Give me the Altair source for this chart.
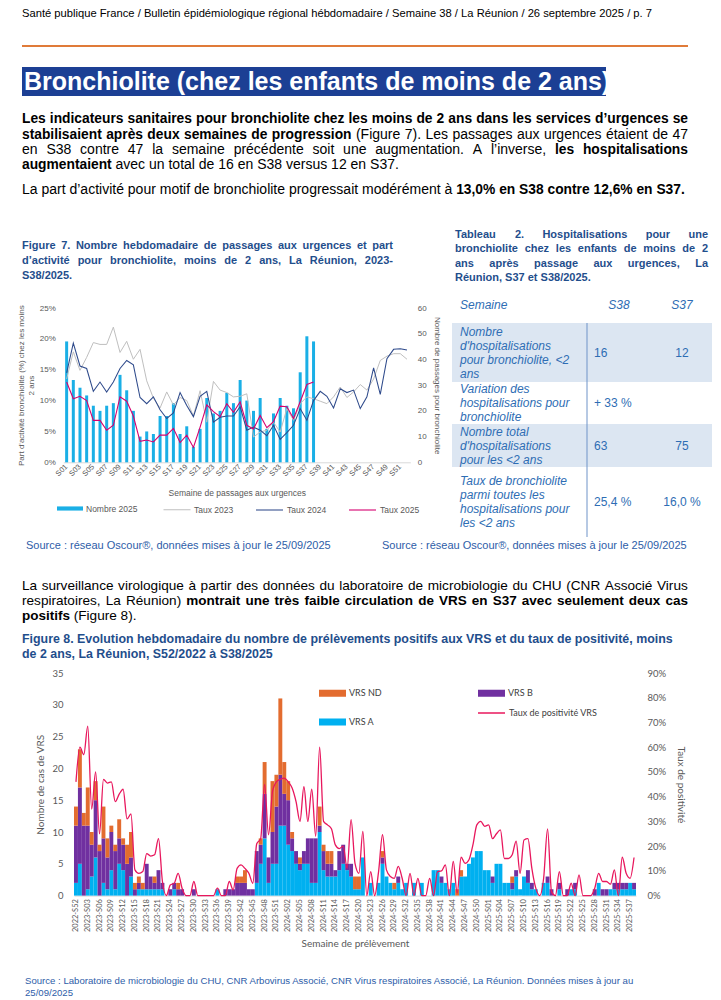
import altair as alt
import pandas as pd

BODY = "Liberation Sans"
F8 = "Lato"
GREY = "#595959"
NAVY = "#1F4E8C"
SRC = "#2E5DA8"
TABC = "#2E6DB4"

# ---------------- Figure 7 data ----------------
weeks7 = ["S%02d" % k for k in range(1, 53)]
nombre_2025 = [47, 32, 29, 26, 22, 20, 22, 23, 34, 28, 20, 10, 12, 11, 18, 18, 23, 11, 14, 6,
               13, 25, 19, 20, 27, 23, 32, 24, 20, 25, 13, 19, 25, 22, 21, 35, 49, 47]
taux_2023 = [13.5, 17.9, 14.9, 17.0, 19.4, 19.1, 19.1, 21.9, 17.8, 19.6, 16.7, 18.3, 13.2, 10.4,
             8.8, 11.4, 9.3, 10.5, 10.0, 7.5, 11.6, 6.5, 13.1, 11.7, 11.3, 10.6, 10.7, 11.1, 4.1,
             4.9, 5.2, 6.5, 4.9, 8.7, 6.8, 9.5, 10.6, 10.3, 9.9, 9.5, 10.6, 12.2, 10.5, 11.4, 12.6,
             11.7, 13.5, 16.5, 17.2, 17.6, 17.6, 16.7]
taux_2024 = [14.5, 19.3, 15.6, 15.2, 11.5, 13.0, 11.4, 13.0, 15.2, 16.5, 15.8, 10.5, 9.5, 10.6,
             8.5, 7.1, 8.0, 11.3, 9.2, 7.4, 10.7, 11.5, 6.5, 7.3, 7.5, 7.5, 9.0, 5.2, 5.7, 5.2, 4.3,
             6.0, 3.7, 4.8, 6.0, 8.7, 6.8, 10.0, 11.5, 10.7, 8.8, 11.9, 11.3, 11.7, 8.7, 10.6, 15.3,
             11.0, 16.8, 18.3, 18.4, 18.2]
taux_2025 = [13.0, 10.3, 10.7, 10.0, 6.8, 6.8, 5.2, 6.0, 10.6, 9.9, 7.5, 3.4, 3.6, 3.3, 4.4, 4.4,
             5.5, 3.2, 4.4, 2.4, 5.7, 9.3, 8.2, 7.4, 9.5, 8.1, 9.8, 6.0, 5.4, 7.6, 5.6, 6.6, 9.1,
             9.0, 7.1, 9.8, 12.6, 13.0]
series7 = ["Taux 2023", "Taux 2024", "Taux 2025"]

# ---------------- Table 2 data ----------------
table_header = ["Semaine", "S38", "S37"]
table_labels = [
    ["Nombre", "d'hospitalisations", "pour bronchiolite, <2", "ans"],
    ["Variation des", "hospitalisations pour", "bronchiolite"],
    ["Nombre total", "d'hospitalisations", "pour les <2 ans"],
    ["Taux de bronchiolite", "parmi toutes les", "hospitalisations pour", "les <2 ans"],
]
table_s38 = ["16", "+ 33 %", "63", "25,4 %"]
table_s37 = ["12", "", "75", "16,0 %"]

# ---------------- Figure 8 data ----------------
weeks8 = (["2022-S52"] + ["2023-S%02d" % k for k in range(1, 53)]
          + ["2024-S%02d" % k for k in range(1, 53)] + ["2025-S%02d" % k for k in range(1, 39)])
vrs_a = [2, 5, 0, 1, 3, 6, 0, 2, 1, 4,
         1, 5, 4, 0, 3, 0, 1, 1, 1, 1,
         1, 1, 1, 0, 0, 1, 0, 0, 0, 0,
         0, 0, 0, 0, 0, 0, 1, 0, 0, 0,
         0, 0, 0, 0, 0, 0, 2, 5, 9, 2,
         5, 5, 11, 11, 8, 7, 5, 4, 5, 5,
         2, 2, 10, 4, 3, 3, 3, 4, 5, 4,
         3, 1, 1, 6, 0, 2, 0, 2, 5, 3,
         2, 1, 2, 1, 2, 0, 2, 0, 2, 0,
         0, 4, 4, 2, 2, 1, 2, 0, 3, 3,
         5, 6, 7, 7, 4, 4, 2, 5, 5, 2,
         2, 1, 3, 1, 3, 2, 1, 1, 0, 2,
         2, 0, 0, 1, 0, 0, 1, 1, 0, 0,
         0, 0, 0, 2, 0, 0, 1, 1, 1, 1,
         1, 2, 1]
vrs_b = [9, 12, 11, 10, 5, 9, 7, 7, 5, 6,
         6, 4, 4, 5, 3, 1, 1, 0, 4, 2,
         1, 3, 1, 0, 1, 1, 1, 1, 0, 0,
         1, 0, 0, 0, 0, 0, 0, 0, 1, 1,
         1, 2, 2, 2, 1, 1, 5, 3, 7, 4,
         5, 9, 8, 5, 7, 2, 2, 1, 2, 4,
         7, 7, 1, 3, 2, 2, 1, 3, 3, 1,
         2, 0, 0, 0, 0, 0, 0, 0, 1, 0,
         0, 0, 1, 0, 0, 0, 0, 0, 0, 0,
         0, 0, 0, 1, 0, 0, 0, 0, 0, 0,
         0, 0, 0, 0, 0, 0, 1, 0, 0, 0,
         0, 1, 1, 0, 0, 2, 1, 0, 0, 0,
         1, 1, 0, 1, 0, 1, 0, 1, 0, 0,
         0, 0, 1, 0, 1, 1, 0, 1, 1, 1,
         1, 0, 1]
vrs_nd = [3, 6, 2, 6, 2, 3, 1, 5, 3, 1,
          1, 3, 1, 3, 4, 1, 1, 1, 0, 0,
          1, 0, 0, 0, 0, 0, 1, 0, 0, 0,
          0, 0, 0, 0, 0, 0, 0, 0, 0, 0,
          0, 1, 1, 2, 0, 0, 0, 1, 5, 0,
          8, 5, 12, 5, 3, 1, 0, 1, 0, 0,
          0, 0, 3, 1, 2, 2, 0, 0, 0, 0,
          0, 2, 2, 0, 0, 0, 0, 0, 1, 0,
          0, 1, 0, 0, 0, 0, 0, 0, 0, 0,
          0, 0, 0, 0, 0, 0, 0, 1, 1, 0,
          0, 0, 0, 0, 0, 0, 0, 0, 0, 0,
          0, 1, 0, 0, 0, 0, 0, 0, 0, 0,
          0, 0, 0, 0, 0, 0, 0, 0, 0, 0,
          0, 0, 0, 0, 0, 0, 0, 0, 0, 0,
          0, 0, 0]
taux_vrs = [46, 60, 57, 68.5, 35, 50, 25, 47, 45.5, 46,
            38, 41, 43, 31, 33, 10.4, 9, 9.7, 17, 16,
            16.5, 23, 5.7, 0, 4.3, 5, 9, 3, 0, 0,
            5.7, 0, 0, 0, 0, 0, 3, 0, 0, 5.7,
            2.3, 11, 12.4, 11, 9, 5, 21, 23, 45, 24.6,
            42, 46, 47, 47.5, 46, 43.5, 38, 30, 44, 30,
            43, 24, 60, 30, 28.6, 27, 20.5, 19, 20, 11,
            30.7, 13, 9, 26, 0, 9.7, 0, 9.7, 24.6, 10.4,
            7.7, 7, 11.8, 7, 0, 9, 0, 7, 0, 0,
            7, 0, 9.7, 10, 12.4, 0, 13.8, 1, 15.5, 13,
            14.5, 20.5, 28.6, 30, 28, 28.6, 23, 25, 26.6, 15,
            15, 16.5, 22, 9, 22.5, 23, 11, 3, 0, 7,
            27, 1.6, 0, 9.7, 0, 0, 5, 0, 8.4, 0,
            0, 0, 3, 9, 5.7, 5.7, 4.6, 10.4, 0, 15.5,
            9, 7, 15.4]
types8 = ["VRS ND", "VRS B", "VRS A"]

# ---------------- text styles & metrics (for justified lines) ----------------
STYLES = {
    "hdr": dict(font=BODY, fontSize=11.2, color="#000000"),
    "title": dict(font=BODY, fontSize=25, fontWeight="bold", color="#FFFFFF"),
    "b": dict(font=BODY, fontSize=13.8, fontWeight="bold", color="#000000"),
    "n": dict(font=BODY, fontSize=14, color="#000000"),
    "b2": dict(font=BODY, fontSize=13.5, fontWeight="bold", color="#000000"),
    "n2": dict(font=BODY, fontSize=13.6, color="#000000"),
    "fig": dict(font=BODY, fontSize=11, fontWeight="bold", color=NAVY),
    "fig8": dict(font=BODY, fontSize=12.4, fontWeight="bold", color=NAVY),
    "tab": dict(font=BODY, fontSize=11, fontWeight="bold", color=NAVY),
    "src": dict(font=BODY, fontSize=11, color=SRC),
    "src2": dict(font=BODY, fontSize=9.6, color=SRC),
    "ti": dict(font=BODY, fontSize=12, fontStyle="italic", color=TABC),
    "tv": dict(font=BODY, fontSize=12, color=TABC),
}
_REG = {" ": 278, "%": 889, "'": 191, "’": 222, "(": 333, ")": 333, ",": 278, "-": 333, ".": 278,
        "/": 278, ":": 278, "<": 584, "+": 584, "®": 737,
        "A": 667, "B": 667, "C": 722, "D": 722, "E": 667, "F": 611, "G": 778, "H": 722, "I": 278,
        "L": 556, "M": 833, "N": 722, "O": 778, "P": 667, "R": 722, "S": 667, "T": 611, "U": 722,
        "V": 667, "a": 556, "b": 556, "c": 500, "d": 556, "e": 556, "f": 278, "g": 556, "h": 556,
        "i": 222, "j": 222, "k": 500, "l": 222, "m": 833, "n": 556, "o": 556, "p": 556, "q": 556,
        "r": 333, "s": 500, "t": 278, "u": 556, "v": 500, "w": 722, "x": 500, "y": 500, "z": 500}
_BOLD = {" ": 278, "%": 889, "'": 238, "’": 278, "(": 333, ")": 333, ",": 278, "-": 333, ".": 278,
         "/": 278, ":": 333, "<": 584, "A": 722, "B": 722, "C": 722, "D": 722, "E": 667, "F": 611,
         "G": 778, "H": 722, "I": 278, "L": 611, "M": 833, "N": 722, "O": 778, "P": 667, "R": 722,
         "S": 667, "T": 611, "U": 722, "V": 667, "a": 556, "b": 611, "c": 556, "d": 611, "e": 556,
         "f": 333, "g": 611, "h": 611, "i": 278, "j": 278, "k": 556, "l": 278, "m": 889, "n": 611,
         "o": 611, "p": 611, "q": 611, "r": 389, "s": 556, "t": 333, "u": 611, "v": 556, "w": 778,
         "x": 556, "y": 556, "z": 500}


def tw(s, st):
    bold = STYLES[st].get("fontWeight") == "bold"
    table = _BOLD if bold else _REG
    return sum(table.get(ch, 556) for ch in s) * STYLES[st]["fontSize"] / 1000


def line_items(segs, y, x0, x1=None):
    """Place words of a (possibly mixed-style) line; justified between x0 and x1 if x1 is given."""
    words = []
    for text, st in segs:
        for w in text.split(" "):
            if w:
                words.append((w, st))
    widths = [tw(w, st) for w, st in words]
    gaps = [tw(" ", st) for w, st in words[:-1]]
    extra = 0
    if x1 is not None and len(words) > 1:
        extra = (x1 - x0 - sum(widths) - sum(gaps)) / (len(words) - 1)
    out, x = [], x0
    for i, (w, st) in enumerate(words):
        out.append((x, y, w, st, "left"))
        if i < len(gaps):
            x += widths[i] + gaps[i] + extra
    return out


W = 705


def pos(w, h):
    return (alt.Scale(domain=[0, w], range=[0, w]), alt.Scale(domain=[0, h], range=[0, h]))


def text_layers(items, w, h):
    sx, sy = pos(w, h)
    df = pd.DataFrame(items, columns=["x", "y", "texte", "style", "align"])
    layers = []
    for (st, al), g in df.groupby(["style", "align"]):
        layers.append(
            alt.Chart(g).mark_text(align=al, baseline="middle", **STYLES[st]).encode(
                x=alt.X("x:Q", scale=sx, axis=None),
                y=alt.Y("y:Q", scale=sy, axis=None),
                text="texte:N",
            )
        )
    return layers


def ax(**kw):
    base = dict(labelFont=BODY, labelFontSize=8, labelColor=GREY, titleFont=BODY, titleFontSize=8,
                titleColor=GREY, titleFontWeight="normal", grid=False, ticks=False, domain=False)
    base.update(kw)
    return alt.Axis(**base)


def ax8(**kw):
    base = dict(labelFont=F8, labelFontSize=9.5, labelColor=GREY, titleFont=F8, titleFontSize=10,
                titleColor=GREY, titleFontWeight="normal", grid=False, ticks=False, domain=False)
    base.update(kw)
    return alt.Axis(**base)


# ---------------- Row 1 : header, title, paragraph, figure titles (page y 8 -> 308) ----------------
H1 = 300
sx1, sy1 = pos(W, H1)
deco = pd.DataFrame({"x": [14], "x2": [680], "y": [38]})
rule1 = alt.Chart(deco).mark_rule(color="#E07B39", strokeWidth=2).encode(
    x=alt.X("x:Q", scale=sx1, axis=None), x2="x2:Q", y=alt.Y("y:Q", scale=sy1, axis=None))
box = pd.DataFrame({"x": [14], "x2": [598], "y": [59], "y2": [88]})
box1 = alt.Chart(box).mark_rect(color="#1C3F94").encode(
    x=alt.X("x:Q", scale=sx1, axis=None), x2="x2:Q",
    y=alt.Y("y:Q", scale=sy1, axis=None), y2="y2:Q")
items1 = [
    (14, 6, "Santé publique France / Bulletin épidémiologique régional hébdomadaire / Semaine 38 / La Réunion / 26 septembre 2025 / p. 7", "hdr", "left"),
    (16, 74, "Bronchiolite (chez les enfants de moins de 2 ans)", "title", "left"),
]
items1 += line_items([("Les indicateurs sanitaires pour bronchiolite chez les moins de 2 ans dans les services d’urgences se", "b")], 111, 14, 680)
items1 += line_items([("stabilisaient après deux semaines de progression", "b"),
                      ("(Figure 7). Les passages aux urgences étaient de 47", "n")], 127, 14, 680)
items1 += line_items([("en S38 contre 47 la semaine précédente soit une augmentation. A l’inverse,", "n"),
                      ("les hospitalisations", "b")], 142, 14, 680)
items1 += line_items([("augmentaient", "b"), ("avec un total de 16 en S38 versus 12 en S37.", "n")], 157, 14)
items1 += line_items([("La part d’activité pour motif de bronchiolite progressait modérément à", "n"),
                      ("13,0% en S38 contre 12,6% en S37.", "b")], 182, 14)
items1 += line_items([("Figure 7. Nombre hebdomadaire de passages aux urgences et part", "fig")], 238, 14, 385)
items1 += line_items([("d’activité pour bronchiolite, moins de 2 ans, La Réunion, 2023-", "fig")], 253, 14, 385)
items1 += line_items([("S38/2025.", "fig")], 268, 14)
items1 += line_items([("Tableau 2. Hospitalisations pour une", "tab")], 227, 447, 700)
items1 += line_items([("bronchiolite chez les enfants de moins de 2", "tab")], 241, 447, 700)
items1 += line_items([("ans après passage aux urgences, La", "tab")], 256, 447, 700)
items1 += line_items([("Réunion, S37 et S38/2025.", "tab")], 270, 447)
row1 = alt.layer(rule1, box1, *text_layers(items1, W, H1)).properties(width=W, height=H1)

# ---------------- Row 2 : Figure 7 + Table 2 (page y 308 -> 462.3) ----------------
H2 = 154.3
X7L, X7R = 55.3, 402.3
f7_bar = pd.DataFrame({"semaine": weeks7[:len(nombre_2025)], "passages": nombre_2025, "serie": "Nombre 2025"})
f7_line = pd.concat([
    pd.DataFrame({"semaine": weeks7[:len(taux_2023)], "taux": taux_2023, "serie": series7[0]}),
    pd.DataFrame({"semaine": weeks7[:len(taux_2024)], "taux": taux_2024, "serie": series7[1]}),
    pd.DataFrame({"semaine": weeks7[:len(taux_2025)], "taux": taux_2025, "serie": series7[2]}),
])
x7 = alt.X("semaine:N", sort=weeks7,
           scale=alt.Scale(domain=weeks7, range=[X7L, X7R], paddingInner=0, paddingOuter=0),
           axis=ax(values=weeks7[::2], labelAngle=-45, labelAlign="right", labelBaseline="middle",
                   labelFontSize=7.5, labelPadding=3, domain=True, domainColor="#D9D9D9",
                   title="Semaine de passages aux urgences", titleFontSize=8.5, titleY=26,
                   titleX=(X7L + X7R) / 2, titleBaseline="top"))
bars7 = alt.Chart(f7_bar).mark_bar(size=3).encode(
    x=x7,
    y=alt.Y("passages:Q", scale=alt.Scale(domain=[0, 60]),
            axis=ax(orient="right", offset=-(W - X7R), values=list(range(0, 61, 10)), labelPadding=7,
                    title="Nombre de passages pour bronchiolite", titlePadding=6)),
    fill=alt.Fill("serie:N", scale=alt.Scale(domain=["Nombre 2025"], range=["#1AAFE6"]),
                  legend=alt.Legend(orient="none", legendX=49, legendY=187.5, title=None,
                                    symbolType="M-1,-0.16H1V0.16H-1Z", symbolSize=676,
                                    symbolStrokeWidth=0, labelFont=BODY, labelFontSize=8.5,
                                    labelColor=GREY, labelOffset=3)),
)
lines7 = alt.Chart(f7_line).mark_line().encode(
    x=x7,
    y=alt.Y("taux:Q", scale=alt.Scale(domain=[0, 25]),
            axis=ax(orient="left", offset=-X7L, values=[0, 5, 10, 15, 20, 25],
                    labelExpr="datum.value + '%'", labelPadding=8,
                    title=["Part d'activité bronchiolite (%) chez les moins", "2 ans"], titlePadding=4)),
    stroke=alt.Stroke("serie:N", scale=alt.Scale(domain=series7, range=["#BFBFBF", "#2E4A8B", "#D6006F"]),
                      legend=alt.Legend(orient="none", legendX=155, legendY=187.5, title=None,
                                        direction="horizontal", symbolType="stroke", symbolSize=729,
                                        symbolStrokeWidth=1.5, labelFont=BODY, labelFontSize=8.5,
                                        labelColor=GREY, labelOffset=3, columnPadding=19)),
    strokeWidth=alt.StrokeWidth("serie:N", scale=alt.Scale(domain=series7, range=[1.0, 1.1, 1.7]),
                                legend=None),
)
fig7 = alt.layer(bars7, lines7).resolve_scale(y="independent")

# table (page x 452 -> 712, y 308 -> 537)
TX = 444
HT = 229
sxt, syt = pos(W, HT)
row_h = [59, 42, 43, 70]
tops = [15]
for hh in row_h:
    tops.append(tops[-1] + hh)
shade = pd.DataFrame({"x": [TX, TX], "x2": [TX + 260, TX + 260], "y": [tops[0], tops[2]], "y2": [tops[1], tops[3]]})
shade_l = alt.Chart(shade).mark_rect(color="#DCE6F2").encode(
    x=alt.X("x:Q", scale=sxt, axis=None), x2="x2:Q", y=alt.Y("y:Q", scale=syt, axis=None), y2="y2:Q")
div = pd.DataFrame({"x": [TX + 135], "y": [tops[0]], "y2": [tops[-1]]})
div_l = alt.Chart(div).mark_rule(color="#6E93C8", strokeWidth=1).encode(
    x=alt.X("x:Q", scale=sxt, axis=None), y=alt.Y("y:Q", scale=syt, axis=None), y2="y2:Q")
itemsT = [(TX + 8, -3, table_header[0], "ti", "left"), (TX + 167, -3, table_header[1], "ti", "center"),
          (TX + 230, -3, table_header[2], "ti", "center")]
for r, lines in enumerate(table_labels):
    c = (tops[r] + tops[r + 1]) / 2
    n = len(lines)
    for k, t in enumerate(lines):
        itemsT.append((TX + 8, c + (k - (n - 1) / 2) * 14, t, "ti", "left"))
    if table_s38[r]:
        itemsT.append((TX + 142, c, table_s38[r], "tv", "left"))
    if table_s37[r]:
        itemsT.append((TX + 230, c, table_s37[r], "tv", "center"))
table = alt.layer(shade_l, div_l, *text_layers(itemsT, W, HT))

row2 = alt.layer(fig7, table).resolve_scale(x="independent", y="independent").properties(width=W, height=H2)

# ---------------- Row 3 : sources, paragraph, figure 8 title (page y 462.3 -> 671.7) ----------------
H3 = 209.4
src7 = "Source : réseau Oscour®, données mises à jour le 25/09/2025"
items3 = [
    (18, 82.7, src7, "src", "left"),
    (374, 82.7, src7, "src", "left"),
    (14, 175.7, "Figure 8. Evolution hebdomadaire du nombre de prélèvements positifs aux VRS et du taux de positivité, moins", "fig8", "left"),
    (14, 190.7, "de 2 ans, La Réunion, S52/2022 à S38/2025", "fig8", "left"),
]
items3 += line_items([("La surveillance virologique à partir des données du laboratoire de microbiologie du CHU (CNR Associé Virus", "n2")], 122.7, 14, 680)
items3 += line_items([("respiratoires, La Réunion)", "n2"),
                      ("montrait une très faible circulation de VRS en S37 avec seulement deux cas", "b2")], 137.7, 14, 680)
items3 += line_items([("positifs", "b2"), ("(Figure 8).", "n2")], 152.7, 14)
row3 = alt.layer(*text_layers(items3, W, H3)).properties(width=W, height=H3)

# ---------------- Row 4 : Figure 8 (page y 671.7 -> 894.3) ----------------
H4 = 222.6
X8L, X8R = 66, 628
f8 = pd.concat([
    pd.DataFrame({"semaine": weeks8, "cas": vrs_a, "type": "VRS A", "rang": 0}),
    pd.DataFrame({"semaine": weeks8, "cas": vrs_b, "type": "VRS B", "rang": 1}),
    pd.DataFrame({"semaine": weeks8, "cas": vrs_nd, "type": "VRS ND", "rang": 2}),
])
f8l = pd.DataFrame({"semaine": weeks8, "taux": taux_vrs, "serie": "Taux de positivité VRS"})
x8 = alt.X("semaine:N", sort=weeks8,
           scale=alt.Scale(domain=weeks8, range=[X8L, X8R], paddingInner=0, paddingOuter=0),
           axis=ax8(values=weeks8[::3], labelAngle=-90, labelAlign="right", labelBaseline="middle",
                    labelFontSize=7.5, labelPadding=3, domain=True, domainColor="#D9D9D9",
                    title="Semaine de prélèvement", titleY=48, titleX=(X8L + X8R) / 2,
                    titleBaseline="middle"))
bars8 = alt.Chart(f8).mark_bar().encode(
    x=x8,
    y=alt.Y("cas:Q", stack="zero", scale=alt.Scale(domain=[0, 35]),
            axis=ax8(orient="left", offset=-X8L, values=list(range(0, 36, 5)), labelPadding=11,
                     title="Nombre de cas de VRS", titlePadding=6)),
    fill=alt.Fill("type:N", scale=alt.Scale(domain=types8, range=["#E36C2F", "#7030A0", "#00B0F0"]),
                  legend=alt.Legend(orient="none", legendX=311, legendY=6.5, columns=2,
                                    direction="horizontal", title=None,
                                    symbolType="M-1,-0.26H1V0.26H-1Z", symbolSize=729,
                                    symbolStrokeWidth=0, labelFont=F8, labelFontSize=9,
                                    labelColor="#404040", labelOffset=3, columnPadding=96,
                                    rowPadding=10)),
    order=alt.Order("rang:Q"),
)
line8 = alt.Chart(f8l).mark_line(interpolate="monotone", strokeWidth=1.3).encode(
    x=x8,
    y=alt.Y("taux:Q", scale=alt.Scale(domain=[0, 90]),
            axis=ax8(orient="right", offset=-(W - X8R), values=list(range(0, 91, 10)),
                     labelExpr="datum.value + '%'", labelPadding=11,
                     title="Taux de positivité", titlePadding=10)),
    stroke=alt.Stroke("serie:N", scale=alt.Scale(domain=["Taux de positivité VRS"], range=["#E8175D"]),
                      legend=alt.Legend(orient="none", legendX=469, legendY=25.5, title=None,
                                        symbolType="stroke", symbolSize=729, symbolStrokeWidth=1.5,
                                        labelFont=F8, labelFontSize=9, labelColor="#404040",
                                        labelOffset=3)),
)
row4 = alt.layer(bars8, line8).resolve_scale(y="independent").properties(width=W, height=H4)

# ---------------- Row 5 : source (page y 894.3 -> 994.3) ----------------
H5 = 100
items5 = [
    (17, 85, "Source : Laboratoire de microbiologie du CHU, CNR Arbovirus Associé, CNR Virus respiratoires Associé, La Réunion. Données mises à jour au", "src2", "left"),
    (17, 97, "25/09/2025", "src2", "left"),
]
row5 = alt.layer(*text_layers(items5, W, H5)).properties(width=W, height=H5)

chart = (
    alt.vconcat(row1, row2, row3, row4, row5, spacing=0, bounds="flush")
    .resolve_scale(x="independent", y="independent", fill="independent", stroke="independent",
                   strokeWidth="independent")
    .resolve_legend(fill="independent", stroke="independent")
    .properties(padding=0)
    .configure_view(stroke=None)
)

chart.save("out.html", embed_options={"renderer": "svg", "actions": False})
